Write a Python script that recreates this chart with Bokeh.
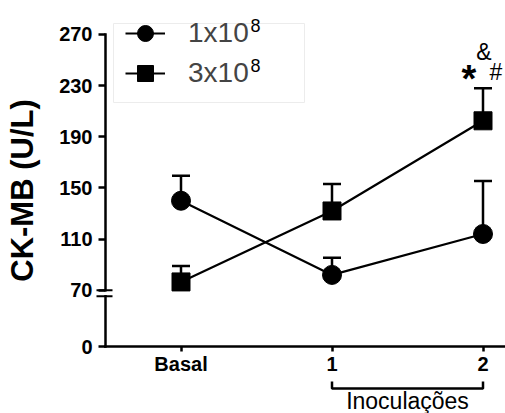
import math
from bokeh.plotting import figure
from bokeh.models import (ColumnDataSource, FixedTicker, Whisker, TeeHead, Legend, LegendItem,
                          Range1d)
from bokeh.core.properties import value
from bokeh.embed import file_html
from bokeh.resources import INLINE

# ---------------- data ----------------
categories = ["Basal", "1", "2"]
x_pos = [0, 1, 2]
series_labels = ["1x10", "3x10"]          # exponent "8" drawn as superscript
series_exponent = "8"
low_dose_mean = [140, 82, 114]            # 1x10^8 (circles)
low_dose_upper = [159.5, 95.5, 155.5]
high_dose_mean = [76.5, 132, 202.5]       # 3x10^8 (squares)
high_dose_upper = [89, 153, 228]
y_tick_values = [0, 70, 110, 150, 190, 230, 270]
sig_marks = ["*", "#", "&"]
bracket_label = "Inoculações"
y_label = "CK-MB (U/L)"

# ---------------- layout constants ----------------
W, H = 505, 413
BREAK_LOW = 70          # axis is broken below this value
ZERO_POS = 26           # plot coordinate where the "0" tick sits
Y_TOP = 270
AXIS_X = -0.5           # x coordinate of the y axis
PX_X = 151.0            # pixels per category step
PX_Y = 1.2787           # pixels per y unit
X0_SCREEN = 180.5       # screen x of category 0
ZERO_SCREEN = 346       # screen y of the x axis

x_start = -X0_SCREEN / PX_X
x_end = (W - X0_SCREEN) / PX_X
y_start = ZERO_POS - (H - ZERO_SCREEN) / PX_Y
y_end = ZERO_POS + ZERO_SCREEN / PX_Y


def ypos(v):
    return v if v >= BREAK_LOW else ZERO_POS


def dy(px):
    return px / PX_Y


def dx(px):
    return px / PX_X


FONT = "Liberation Sans"

p = figure(width=W, height=H, x_range=Range1d(x_start, x_end), y_range=Range1d(y_start, y_end),
           output_backend="svg", toolbar_location=None,
           min_border_left=0, min_border_right=0, min_border_top=0, min_border_bottom=0)
p.outline_line_color = None
p.grid.visible = False

# axes (ticks + labels from Bokeh, fixed inside the frame; lines drawn below)
for ax in (p.xaxis, p.yaxis):
    ax.axis_line_color = None
    ax.major_tick_line_width = 2.5
    ax.major_tick_line_color = "black"
    ax.minor_tick_line_color = None
    ax.major_tick_in = 0
    ax.major_label_text_font = FONT
    ax.major_label_text_font_style = "bold"
    ax.major_label_text_font_size = "20px"
    ax.major_label_text_color = "black"

p.xaxis.fixed_location = ZERO_POS
p.xaxis.ticker = FixedTicker(ticks=x_pos)
p.xaxis.major_label_overrides = {x: c for x, c in zip(x_pos, categories)}
p.xaxis.major_tick_out = 5
p.xaxis.major_label_standoff = 1

p.yaxis.fixed_location = AXIS_X
ytick_pos = [ypos(v) for v in y_tick_values]
p.yaxis.ticker = FixedTicker(ticks=ytick_pos)
p.yaxis.major_label_overrides = {ypos(v): str(v) for v in y_tick_values}
p.yaxis.major_tick_out = 7
p.yaxis.major_label_standoff = 6

# axis lines with the break
break_low2 = BREAK_LOW - dy(6)
p.segment(x0=[AXIS_X, AXIS_X, AXIS_X], y0=[ZERO_POS, BREAK_LOW, ZERO_POS],
          x1=[AXIS_X, AXIS_X, x_end], y1=[break_low2, Y_TOP, ZERO_POS],
          line_color="black", line_width=2.5, line_cap="square")
p.segment(x0=[AXIS_X - dx(9)] * 2, y0=[BREAK_LOW, break_low2],
          x1=[AXIS_X + dx(7)] * 2, y1=[BREAK_LOW, break_low2],
          line_color="black", line_width=2)

# y axis title
p.text(x=[AXIS_X - dx(83)], y=[(ZERO_POS + Y_TOP) / 2], text=[y_label], angle=math.pi / 2,
       text_font=value(FONT), text_font_style="bold", text_font_size="31px",
       text_align="center", text_baseline="alphabetic", text_color="black")

# series
src_low = ColumnDataSource(dict(x=x_pos, y=low_dose_mean, upper=low_dose_upper))
src_high = ColumnDataSource(dict(x=x_pos, y=high_dose_mean, upper=high_dose_upper))

r1l = p.line("x", "y", source=src_low, line_color="black", line_width=2.2)
r2l = p.line("x", "y", source=src_high, line_color="black", line_width=2.2)
for src in (src_low, src_high):
    p.add_layout(Whisker(source=src, base="x", upper="upper", lower="y", dimension="height",
                         upper_head=TeeHead(size=18, line_width=2.5, line_color="black"),
                         lower_head=None, line_width=2.5, line_color="black"))
r1m = p.scatter("x", "y", source=src_low, marker="circle", size=19, color="black")
r2m = p.scatter("x", "y", source=src_high, marker="square", size=18, color="black")

# significance marks above the 3x10^8 point at "2"
top_idx = 2
p.text(x=[x_pos[top_idx]], y=[high_dose_upper[top_idx]], text=[sig_marks[0]],
       x_offset=-14, y_offset=-9, text_font=value(FONT), text_font_style="bold",
       text_font_size="38px", text_align="center", text_baseline="alphabetic", text_color="black")
p.text(x=[x_pos[top_idx]] * 2, y=[high_dose_upper[top_idx]] * 2, text=sig_marks[1:],
       x_offset=[13, 1], y_offset=[-16, -36], text_font=value(FONT),
       text_font_size="23px", text_align="center", text_baseline="alphabetic", text_color="black")

# legend
legend = Legend(items=[LegendItem(label=series_labels[0], renderers=[r1l, r1m]),
                       LegendItem(label=series_labels[1], renderers=[r2l, r2m])],
                location=(125, 320), padding=12, spacing=0, margin=0,
                glyph_width=40, glyph_height=40, label_height=40, label_standoff=23,
                label_text_font=FONT, label_text_font_size="28px",
                border_line_color=None, background_fill_alpha=0)
p.add_layout(legend)
# faint legend frame
p.quad(left=[dx(113) + x_start], right=[dx(304) + x_start],
       bottom=[y_end - dy(102)], top=[y_end - dy(23)],
       fill_alpha=0, line_color="#ececec", line_width=1)
# superscript exponents
p.text(x=[dx(250) + x_start] * 2, y=[y_end - dy(25), y_end - dy(65)],
       text=[series_exponent] * 2, text_font=value(FONT), text_font_size="18px",
       text_baseline="middle", text_align="left", text_color="black")

# bracket under inoculations 1..2
b_low = ZERO_POS - dy(42)
b_high = ZERO_POS - dy(35)
p.multi_line(xs=[[x_pos[1], x_pos[1], x_pos[2], x_pos[2]]], ys=[[b_high, b_low, b_low, b_high]],
             line_color="black", line_width=2.5)
p.text(x=[(x_pos[1] + x_pos[2]) / 2], y=[ZERO_POS - dy(54)], text=[bracket_label],
       text_font=value(FONT), text_font_size="23px", text_align="center",
       text_baseline="alphabetic", text_color="black")

open("out.html", "w").write(file_html(p, INLINE))
